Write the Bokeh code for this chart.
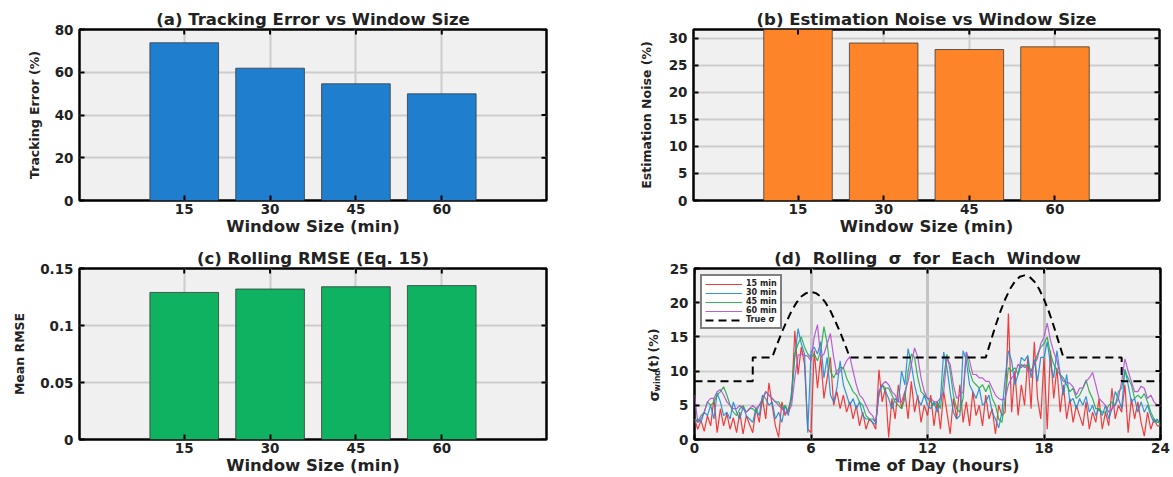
import math
import numpy as np
from bokeh.plotting import figure
from bokeh.layouts import column, row
from bokeh.models import Range1d, FixedTicker, Legend, LegendItem
from bokeh.core.properties import value
from bokeh.embed import file_html
from bokeh.resources import INLINE

# ---------------------------------------------------------------- data
window_labels = ["15", "30", "45", "60"]
tracking_error = [73.8, 61.9, 54.6, 49.9]      # %
estimation_noise = [32.0, 29.1, 27.9, 28.4]    # %
rolling_rmse = [0.129, 0.132, 0.134, 0.135]

# rolling sigma estimates, 10-minute samples over the day (145 points)
sigma_15 = [
    3.0, 1.5, 2.8, 1.2, 3.5, 2.0,
    6.0, 1.0, 4.5, 2.0, 3.8, 1.5,
    3.2, 1.0, 4.0, 0.8, 3.5, 2.2,
    1.0, 4.5, 2.5, 6.0, 3.0, 8.3,
    5.0, 2.0, 0.3, 5.5, 3.5, 4.5,
    6.0, 15.9, 9.5, 13.5, 11.0, 1.5,
    1.0, 13.0, 7.5, 12.0, 6.0, 9.0,
    12.0, 5.0, 7.0, 4.5, 6.5, 4.0,
    5.5, 3.0, 5.0, 2.0, 4.0, 1.5,
    3.0, 2.5, 1.5, 10.2, 5.5, 7.5,
    0.3, 6.0, 3.0, 8.0, 4.5, 7.0,
    3.0, 8.5, 4.0, 6.5, 2.5, 5.0,
    3.5, 6.5, 2.0, 5.5, 1.5, 7.0,
    4.0, 0.8, 6.0, 3.0, 8.0, 2.5,
    5.5, 2.0, 7.0, 3.5, 5.0, 2.0,
    6.5, 3.0, 4.5, 0.8, 5.0, 3.5,
    4.0, 18.4, 4.0, 10.0, 3.5, 8.0,
    5.0, 12.0, 4.5, 14.3, 6.0, 3.0,
    12.0, 1.5, 13.0, 6.0, 10.5, 4.0,
    8.0, 3.0, 6.0, 2.5, 5.0, 3.5,
    2.0, 5.5, 1.5, 4.0, 2.5, 6.0,
    1.5, 4.0, 2.0, 7.5, 3.0, 5.0,
    4.0, 8.0, 1.0, 6.0, 3.0, 5.5,
    2.5, 0.5, 4.0, 1.5, 3.0, 2.0,
    2.0,
]
sigma_30 = [
    2.5, 3.0, 2.5, 4.0, 3.5, 5.0,
    3.0, 6.8, 5.5, 3.5, 4.0, 3.0,
    5.5, 4.0, 3.0, 4.8, 3.5, 3.0,
    2.5, 4.5, 3.5, 6.5, 6.0, 5.0,
    5.5, 3.0, 4.0, 2.5, 5.0, 3.5,
    7.0, 12.0, 16.2, 14.0, 12.5, 1.0,
    12.8, 13.5, 12.5, 14.3, 9.0, 12.0,
    6.5, 5.5, 7.5, 11.5, 8.0, 6.5,
    5.0, 6.0, 4.5, 5.5, 3.5, 3.0,
    3.0, 2.5, 2.2, 7.0, 8.0, 7.0,
    6.0, 4.5, 6.0, 5.5, 10.0, 8.0,
    13.3, 11.0, 8.0, 6.0, 5.0, 6.5,
    5.0, 4.5, 5.5, 4.0, 6.0, 12.8,
    10.5, 7.0, 4.0, 3.0, 3.5, 13.0,
    11.5, 8.0, 7.0, 6.0, 7.5, 5.0,
    5.5, 6.5, 4.0, 3.0, 1.7, 4.0,
    9.0, 13.0, 11.5, 8.0, 9.5, 12.0,
    11.5, 12.3, 9.0, 11.7, 8.5, 12.0,
    12.0, 14.3, 11.0, 9.0, 13.0, 9.5,
    6.5, 9.5, 5.5, 6.0, 4.5, 6.0,
    5.0, 6.3, 4.0, 5.0, 3.5, 4.5,
    3.5, 5.0, 3.0, 4.5, 7.0, 6.0,
    4.5, 10.3, 8.0, 5.5, 6.0, 4.0,
    5.5, 4.0, 5.0, 3.5, 2.5, 3.0,
    2.0,
]
sigma_45 = [
    3.0, 2.5, 3.5, 4.0, 5.5, 5.0,
    5.5, 6.5, 7.0, 7.7, 6.5, 5.0,
    4.0, 3.5, 4.5, 5.0, 4.0, 4.5,
    4.5, 4.0, 5.0, 5.5, 7.0, 6.5,
    6.0, 5.5, 5.5, 4.5, 5.0, 4.0,
    6.0, 12.5, 14.0, 15.0, 13.5, 12.5,
    12.0, 12.5, 11.5, 13.0, 16.5, 14.0,
    10.0, 9.0, 10.0, 10.5, 10.5, 9.0,
    8.0, 7.0, 6.5, 5.5, 5.0, 3.5,
    3.0, 3.0, 2.5, 6.5, 8.0, 7.5,
    7.5, 6.5, 5.5, 5.0, 4.5, 6.0,
    10.0, 12.5, 12.0, 9.0, 7.0, 6.5,
    6.0, 5.5, 5.0, 5.5, 4.5, 9.0,
    12.5, 10.0, 6.5, 4.5, 4.0, 6.0,
    12.8, 10.0, 8.5, 8.0, 7.5, 8.0,
    7.0, 8.0, 6.0, 5.0, 3.0, 2.5,
    6.0, 10.5, 10.0, 10.5, 9.5, 11.0,
    10.5, 11.0, 10.0, 11.0, 12.5, 13.5,
    14.0, 15.0, 12.5, 11.0, 10.0, 9.5,
    9.0, 8.0, 7.0, 7.5, 6.0, 6.5,
    7.5, 8.7, 7.0, 6.0, 4.5, 4.5,
    4.0, 4.0, 5.0, 5.5, 5.0, 7.0,
    7.5, 10.0, 9.0, 8.0, 6.0, 6.5,
    6.0, 6.7, 5.5, 4.0, 3.0, 2.5,
    2.5,
]
sigma_60 = [
    6.5, 2.5, 3.0, 4.0, 5.5, 6.0,
    6.0, 7.0, 7.3, 6.5, 5.5, 5.0,
    4.5, 4.5, 5.0, 4.5, 4.0, 4.5,
    5.0, 4.5, 5.0, 6.0, 7.0, 6.5,
    6.0, 5.5, 5.0, 4.5, 4.0, 4.0,
    5.0, 9.0, 12.3, 12.5, 12.3, 12.2,
    11.5, 15.0, 16.8, 12.0, 12.5, 14.0,
    15.5, 12.0, 9.5, 10.0, 10.5, 11.5,
    12.1, 10.0, 8.0, 6.5, 6.0, 5.0,
    4.0, 3.5, 2.5, 7.0, 8.0, 8.5,
    8.0, 7.0, 6.5, 5.5, 5.5, 7.0,
    8.5, 11.0, 13.4, 12.0, 9.0, 7.0,
    6.0, 6.0, 5.5, 5.5, 6.0, 7.0,
    11.9, 11.0, 8.0, 6.0, 6.5, 7.0,
    12.8, 11.5, 9.5, 9.5, 9.0, 9.0,
    8.5, 8.5, 7.5, 6.5, 6.0, 5.8,
    6.0, 8.0, 9.0, 9.5, 11.0, 10.5,
    11.0, 10.0, 9.9, 11.0, 11.9, 14.0,
    15.0, 17.0, 14.5, 12.8, 11.5, 9.4,
    8.5, 8.4, 8.2, 7.7, 6.5, 7.5,
    7.5, 8.5, 9.0, 9.8, 8.0, 6.0,
    5.5, 5.0, 4.0, 4.5, 5.0, 6.0,
    8.5, 11.8, 10.0, 8.5, 7.0, 7.0,
    7.8, 7.5, 6.0, 6.5, 5.5, 5.0,
    5.0,
]
hours = np.arange(len(sigma_15)) / 6.0

# true sigma profile (hours, %)
true_hours = [0, 3, 3, 4,
              4.25, 4.5, 4.75, 5, 5.25, 5.5, 5.75, 6,
              6.25, 6.5, 6.75, 7, 7.25, 7.5, 7.75, 8,
              15, 15.25, 15.5, 15.75, 16, 16.25, 16.5, 16.75, 17,
              17.25, 17.5, 17.75, 18, 18.25, 18.5, 18.75, 19,
              22, 22, 24]
true_sigma = [8.5, 8.5, 12.0, 12.0,
              13.9, 15.7, 17.3, 18.8, 20.0, 20.9, 21.4, 21.6,
              21.4, 20.9, 20.0, 18.8, 17.3, 15.7, 13.9, 12.0,
              12.0, 14.3, 16.6, 18.7, 20.5, 22.0, 23.1, 23.8, 24.0,
              23.8, 23.1, 22.0, 20.5, 18.7, 16.6, 14.3, 12.0,
              12.0, 8.5, 8.5]

# ---------------------------------------------------------------- styling
FONT = "DejaVu Sans"
TXT = "#222222"
FRAME_W_L, FRAME_W_R, FRAME_H = 467, 466, 171
TICK_LEN = 5  # px, inward


def frame_axes(p, xticks, yticks, xr, yr, frame_w, xlabel, ylabel,
               xover=None, yover=None, ylabel_standoff=10):
    p.background_fill_color = "#f0f0f0"
    p.border_fill_color = "white"
    p.outline_line_color = "black"
    p.outline_line_width = 2.5
    for g in (p.xgrid[0], p.ygrid[0]):
        g.grid_line_color = "#cdcdcd"
        g.grid_line_width = 2
    p.xgrid[0].ticker = FixedTicker(ticks=xticks)
    p.ygrid[0].ticker = FixedTicker(ticks=yticks)

    xa, ya = p.below[0], p.left[0]
    for ax, ticks in ((xa, xticks), (ya, yticks)):
        ax.ticker = FixedTicker(ticks=ticks)
        ax.axis_line_color = None
        ax.major_tick_in = TICK_LEN
        ax.major_tick_out = 0
        ax.major_tick_line_width = 2
        ax.major_tick_line_color = "black"
        ax.minor_tick_line_color = None
        ax.major_label_text_font = FONT
        ax.major_label_text_font_style = "bold"
        ax.major_label_text_font_size = "13.5px"
        ax.major_label_text_color = TXT
        ax.axis_label_text_font = FONT
        ax.axis_label_text_font_style = "bold"
        ax.axis_label_text_color = TXT
    xa.major_label_standoff = 3
    ya.major_label_standoff = 6
    xa.axis_label = xlabel
    xa.axis_label_text_font_size = "16.5px"
    xa.axis_label_standoff = 0
    if ylabel:
        ya.axis_label = ylabel
        ya.axis_label_text_font_size = "12.5px"
        ya.axis_label_standoff = ylabel_standoff
    if xover:
        xa.major_label_overrides = xover
    if yover:
        ya.major_label_overrides = yover

    # inward tick marks along the top and right edges of the box
    ty = (yr[1] - yr[0]) * TICK_LEN / FRAME_H
    tx = (xr[1] - xr[0]) * TICK_LEN / frame_w
    p.segment(x0=xticks, y0=[yr[1]] * len(xticks), x1=xticks,
              y1=[yr[1] - ty] * len(xticks), line_color="black", line_width=2)
    p.segment(x0=[xr[1]] * len(yticks), y0=yticks, x1=[xr[1] - tx] * len(yticks),
              y1=yticks, line_color="black", line_width=2)

    p.title.align = "center"
    p.title.text_font = FONT
    p.title.text_font_style = "bold"
    p.title.text_font_size = "16.5px"
    p.title.text_color = TXT
    p.title.standoff = 2


def make_fig(title, frame_w, left, right, top, bottom, xr, yr):
    return figure(title=title, frame_width=frame_w, frame_height=FRAME_H,
                  min_border_left=left, min_border_right=right,
                  min_border_top=top, min_border_bottom=bottom,
                  x_range=Range1d(*xr), y_range=Range1d(*yr),
                  toolbar_location=None, output_backend="svg")


positions = list(range(1, len(window_labels) + 1))
label_map = {pos: lab for pos, lab in zip(positions, window_labels)}
bar_xr = (-0.22, 5.22)

# (a) tracking error
yr_a = (0, 80)
pa = make_fig("(a) Tracking Error vs Window Size", FRAME_W_L, 79, 20, 29, 38,
              bar_xr, yr_a)
pa.vbar(x=positions, top=tracking_error, width=0.8, fill_color="#1f7fce",
        line_color="#3a3a3a", line_width=0.8)
frame_axes(pa, positions, [0, 20, 40, 60, 80], bar_xr, yr_a, FRAME_W_L,
           "Window Size (min)", "Tracking Error (%)", xover=label_map)

# (b) estimation noise
yr_b = (0, 31.6)
pb = make_fig("(b) Estimation Noise vs Window Size", FRAME_W_R, 127, 14, 29, 38,
              bar_xr, yr_b)
pb.vbar(x=positions, top=estimation_noise, width=0.8, fill_color="#fd8428",
        line_color="#3a3a3a", line_width=0.8)
frame_axes(pb, positions, [0, 5, 10, 15, 20, 25, 30], bar_xr, yr_b, FRAME_W_R,
           "Window Size (min)", "Estimation Noise (%)", xover=label_map,
           ylabel_standoff=12)

# (c) rolling RMSE
yr_c = (0, 0.15)
pc = make_fig("(c) Rolling RMSE (Eq. 15)", FRAME_W_L, 79, 20, 30, 38,
              bar_xr, yr_c)
pc.vbar(x=positions, top=rolling_rmse, width=0.8, fill_color="#0eb260",
        line_color="#3a3a3a", line_width=0.8)
frame_axes(pc, positions, [0, 0.05, 0.1, 0.15], bar_xr, yr_c, FRAME_W_L,
           "Window Size (min)", "Mean RMSE", xover=label_map,
           yover={0: "0", 0.05: "0.05", 0.1: "0.1", 0.15: "0.15"})

# (d) rolling sigma time series
D_LEFT = 27          # px between the label strip and the frame of (d)
STRIP_W = 100        # px strip holding the rotated y-axis label of (d)
xr_d, yr_d = (0, 24), (0, 25)
pd_ = make_fig("(d)\u00a0 Rolling\u00a0 σ\u00a0 for\u00a0 Each\u00a0 Window",
               FRAME_W_R, D_LEFT, 14, 30, 38, xr_d, yr_d)
series = [(sigma_15, "#f02828", "15 min"), (sigma_30, "#1f8ad6", "30 min"),
          (sigma_45, "#1fae4a", "45 min"), (sigma_60, "#b14fd0", "60 min")]
items = []
for vals, col, lab in series:
    r = pd_.line(hours, vals, line_color=col, line_width=1.2, line_alpha=0.9)
    items.append(LegendItem(label=lab, renderers=[r]))
rt = pd_.line(true_hours, true_sigma, line_color="black", line_width=2,
              line_dash="8 5")
items.append(LegendItem(label="True σ", renderers=[rt]))
frame_axes(pd_, [0, 6, 12, 18, 24], [0, 5, 10, 15, 20, 25], xr_d, yr_d,
           FRAME_W_R, "Time of Day (hours)", None)
pd_.xgrid[0].grid_line_color = "#c4c4c4"
pd_.xgrid[0].grid_line_width = 3

legend = Legend(items=items, location="top_left", margin=6, padding=3,
                spacing=0, glyph_width=37, glyph_height=8, label_height=8,
                label_standoff=4, label_text_font=FONT,
                label_text_font_style="bold", label_text_font_size="8px",
                label_text_color=TXT,
                border_line_color="black", border_line_width=2,
                background_fill_color="white", background_fill_alpha=1)
pd_.add_layout(legend)

# strip left of (d) carrying its y-axis label "σ_wind(t) (%)"; the strip's
# data units are pixels measured from its lower-left corner
ROW2_H = 30 + FRAME_H + 38
strip = figure(title=None, frame_width=STRIP_W, frame_height=ROW2_H,
               min_border=0, x_range=Range1d(0, STRIP_W),
               y_range=Range1d(0, ROW2_H), x_axis_type=None, y_axis_type=None,
               outline_line_color=None, toolbar_location=None,
               output_backend="svg")
strip.grid.visible = False
label_base = 38 + 27                 # baseline of the label's lower end
axis_x = STRIP_W + D_LEFT - 40       # centre line of the rotated label
label_pieces = [
    ("σ", axis_x, label_base + 41, "14px"),
    ("wind", axis_x + 4, label_base + 51, "8px"),
    ("(t)", axis_x, label_base + 70, "12.5px"),
    ("(%)", axis_x, label_base + 90, "12.5px"),
]
for txt, lx, ly, size in label_pieces:
    strip.text(x=[lx], y=[ly], text=[txt], angle=math.pi / 2,
               text_align="left", text_baseline="middle",
               text_font=value(FONT), text_font_style="bold",
               text_font_size=size, text_color=TXT)

layout = column(row(pa, pb), row(pc, strip, pd_))
open("out.html", "w").write(file_html(layout, INLINE))
